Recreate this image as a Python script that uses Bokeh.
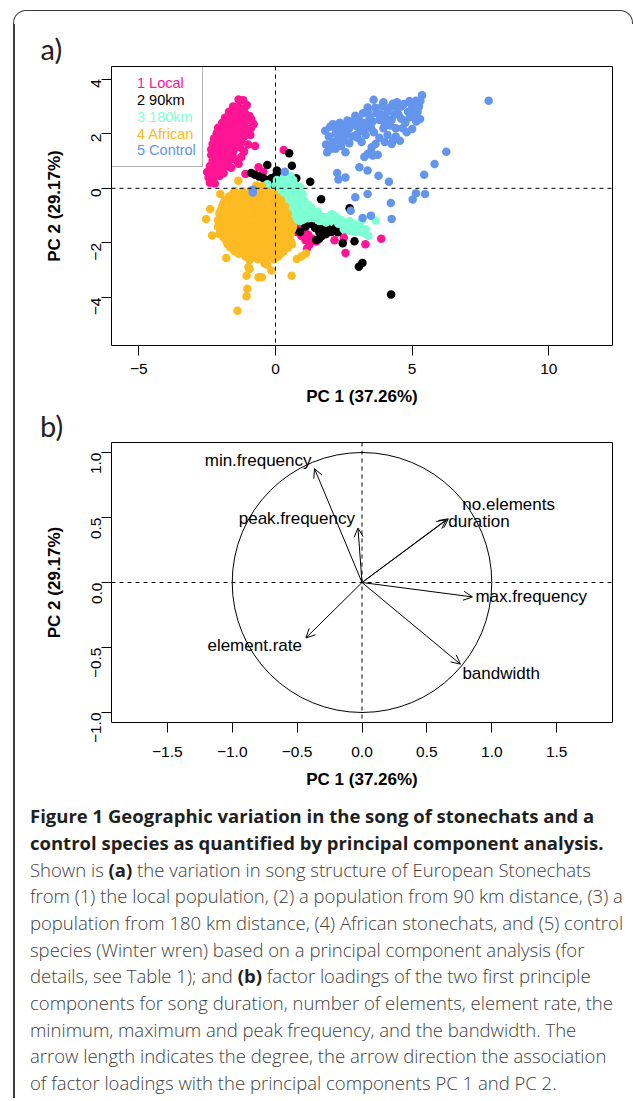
import math
from bokeh.plotting import figure
from bokeh.models import (Range1d, FixedTicker, Span, Label, BoxAnnotation, Arrow,
                          OpenHead, Div, ColumnDataSource, CustomJSTickFormatter)
from bokeh.layouts import column, row
from bokeh.embed import file_html
from bokeh.resources import INLINE
from bokeh.core.properties import value

FONT = "Liberation Sans"

# ---------------- data: panel a (PC scores) ----------------
group_names = ["1 Local", "2 90km", "3 180km", "4 African", "5 Control"]
group_colors = ["#FF1493", "#000000", "#7FFFD4", "#FCBA23", "#6495ED"]

local_pc = [
    (-1.35, 3.25), (-1.18, 3.22), (-1.05, 3.05), (-1.55, 3.0), (-1.35, 2.98), (-1.15, 2.92),
    (-1.7, 2.8), (-1.5, 2.78), (-1.3, 2.75), (-1.1, 2.72), (-0.95, 2.65),
    (-1.85, 2.58), (-1.62, 2.6), (-1.42, 2.55), (-1.22, 2.52), (-1.02, 2.5), (-0.88, 2.52),
    (-1.95, 2.4), (-1.75, 2.38), (-1.55, 2.35), (-1.35, 2.4), (-1.15, 2.33),
    (-2.1, 2.22), (-1.9, 2.2), (-1.7, 2.18), (-1.5, 2.2), (-1.3, 2.15), (-1.1, 2.1),
    (-2.15, 2.02), (-1.95, 2.0), (-1.75, 1.98), (-1.55, 2.0), (-1.35, 1.95), (-1.15, 1.9), (-0.92, 1.95),
    (-2.25, 1.82), (-2.05, 1.8), (-1.85, 1.78), (-1.65, 1.8), (-1.45, 1.75), (-1.25, 1.72),
    (-2.3, 1.62), (-2.1, 1.6), (-1.9, 1.58), (-1.7, 1.62), (-1.5, 1.55), (-1.3, 1.5), (-0.75, 1.55),
    (-2.35, 1.42), (-2.15, 1.4), (-1.95, 1.38), (-1.75, 1.4), (-1.55, 1.35),
    (-2.35, 1.22), (-2.15, 1.2), (-1.95, 1.18), (-1.75, 1.22), (-1.55, 1.15),
    (-2.3, 1.02), (-2.1, 1.0), (-1.9, 0.98), (-1.7, 1.0), (-1.42, 1.02),
    (-2.4, 0.82), (-2.2, 0.8), (-2.0, 0.78), (-1.8, 0.8), (-1.62, 0.75),
    (-2.5, 0.6), (-2.3, 0.58), (-2.1, 0.6), (-1.9, 0.55),
    (-2.45, 0.4), (-2.28, 0.38), (-2.05, 0.45), (-2.4, 0.2), (-2.22, 0.18),
    (-1.25, 1.15), (-1.35, 0.9), (-1.15, 1.35), (-1.0, 1.6), (-0.9, 2.2), (-0.8, 2.35),
    (0.3, 1.4), (-0.62, 0.77), (-1.1, 0.52), (-0.45, 0.6), (0.25, 0.42),
    (0.55, -1.25), (0.7, -1.35), (0.78, -1.6), (0.9, -1.45), (0.95, -1.75), (1.05, -1.55),
    (1.1, -1.9), (1.2, -1.7), (1.25, -2.05), (1.15, -2.2), (1.35, -1.85), (1.5, -1.95),
    (1.75, -1.45), (2.16, -1.9), (2.5, -1.8), (2.56, -2.37), (3.29, -2.05), (3.87, -1.85),
]

km90_pc = [
    (0.5, 1.28), (0.6, 0.83), (-0.3, 0.85), (0.05, 0.65), (-0.89, 0.56), (-0.75, 0.5),
    (-0.6, 0.43), (-0.45, 0.38), (-0.3, 0.3), (-0.15, 0.37), (-0.1, 0.16), (0.0, 0.45),
    (0.2, 0.5), (0.76, 0.37), (1.27, 0.24), (1.67, -0.4), (2.71, -0.73), (0.3, 0.1),
    (0.57, -1.37), (0.7, -1.5), (0.9, -1.6), (1.45, -1.45), (1.6, -1.6), (1.67, -1.43),
    (1.85, -1.67), (1.49, -1.89), (1.6, -1.85), (1.82, -1.55), (1.95, -1.5), (2.05, -1.6),
    (2.28, -1.61), (2.46, -2.01), (2.89, -1.94), (3.05, -2.87), (3.18, -2.73), (4.23, -3.89),
    (1.3, -1.3), (1.1, -1.4), (2.2, -1.45), (1.7, -1.75), (2.55, -1.5),
]

km180_pc = [
    (-0.4, 0.05), (-0.25, -0.1), (-0.15, -0.3), (0.0, 0.1), (0.1, -0.1), (0.15, 0.25),
    (0.3, 0.4), (0.45, 0.35), (0.55, 0.45), (0.5, 0.15), (0.3, 0.1), (0.2, -0.2),
    (0.35, -0.15), (0.6, 0.0), (0.75, 0.1), (0.85, -0.1), (0.7, -0.2), (0.5, -0.3),
    (0.35, -0.45), (0.55, -0.55), (0.75, -0.45), (0.95, -0.3), (1.05, -0.45), (1.2, -0.6),
    (1.0, -0.65), (0.8, -0.7), (0.6, -0.8), (0.45, -0.9), (0.6, -1.0), (0.8, -1.1),
    (0.85, -0.9), (1.05, -0.85), (1.25, -0.85), (1.3, -0.7), (1.15, -1.0), (1.0, -1.15),
    (0.7, -1.2), (1.45, -0.95), (1.6, -1.0), (1.75, -1.05), (1.9, -1.05), (2.05, -0.95),
    (2.1, -1.15), (2.25, -1.1), (2.3, -1.3), (2.45, -1.25), (2.6, -1.3), (2.7, -1.2),
    (2.8, -1.45), (2.95, -1.4), (3.0, -1.55), (3.15, -1.6), (3.3, -1.67), (3.15, -1.2),
    (3.66, -1.18), (2.5, -1.5), (2.7, -1.55), (1.85, -1.25), (1.6, -1.2),
    (0.05, 0.3), (0.2, 0.05), (0.4, 0.25), (0.65, 0.3), (0.9, 0.05), (0.25, -0.35),
    (0.45, -0.1), (0.65, -0.35), (0.85, -0.55), (1.1, -0.7), (0.4, -0.7), (0.7, -0.6),
    (0.95, -0.95), (0.55, -1.1), (1.2, -1.1), (1.35, -0.85), (0.3, -0.55), (0.15, -0.05),
    (-0.3, 0.15), (1.0, -0.2), (0.9, -1.2), (1.4, -1.1), (1.55, -0.85), (1.7, -1.2),
    (2.0, -1.2), (2.15, -1.0), (2.4, -1.15), (2.55, -1.4), (2.85, -1.3), (3.1, -1.45),
    (3.3, -1.5), (3.4, -1.75), (2.9, -1.6),
]

african_pc = [
    (-0.7, 0.1), (-0.5, 0.08),
    (-1.5, -0.1), (-1.2, -0.12), (-0.9, -0.08), (-0.6, -0.1), (-0.3, -0.12),
    (-1.7, -0.3), (-1.4, -0.32), (-1.1, -0.28), (-0.8, -0.3), (-0.5, -0.33), (-0.2, -0.3), (0.05, -0.32),
    (-1.9, -0.55), (-1.6, -0.52), (-1.3, -0.56), (-1.0, -0.55), (-0.7, -0.53), (-0.4, -0.56), (-0.1, -0.55), (0.15, -0.52),
    (-2.0, -0.8), (-1.7, -0.82), (-1.4, -0.78), (-1.1, -0.8), (-0.8, -0.83), (-0.5, -0.8), (-0.2, -0.78), (0.1, -0.8), (0.3, -0.82),
    (-2.0, -1.05), (-1.7, -1.03), (-1.4, -1.06), (-1.1, -1.05), (-0.8, -1.02), (-0.5, -1.06), (-0.2, -1.05), (0.1, -1.03), (0.35, -1.05),
    (-2.05, -1.3), (-1.75, -1.32), (-1.45, -1.28), (-1.15, -1.3), (-0.85, -1.33), (-0.55, -1.3), (-0.25, -1.28), (0.05, -1.3), (0.35, -1.32), (0.55, -1.3),
    (-2.0, -1.55), (-1.7, -1.53), (-1.4, -1.56), (-1.1, -1.55), (-0.8, -1.52), (-0.5, -1.56), (-0.2, -1.55), (0.1, -1.53), (0.4, -1.55), (0.6, -1.52),
    (-1.9, -1.8), (-1.6, -1.82), (-1.3, -1.78), (-1.0, -1.8), (-0.7, -1.83), (-0.4, -1.8), (-0.1, -1.78), (0.2, -1.8), (0.5, -1.82),
    (-1.75, -2.05), (-1.45, -2.03), (-1.15, -2.06), (-0.85, -2.05), (-0.55, -2.02), (-0.25, -2.06), (0.05, -2.05), (0.35, -2.03), (0.6, -2.05),
    (-1.5, -2.3), (-1.2, -2.28), (-0.9, -2.32), (-0.6, -2.3), (-0.3, -2.28), (0.0, -2.32), (0.3, -2.3),
    (-1.1, -2.5), (-0.8, -2.52), (-0.5, -2.48), (-0.2, -2.5), (0.1, -2.5),
    (-1.55, -0.2), (-1.25, -0.21), (-0.95, -0.19), (-0.65, -0.2), (-0.35, -0.22), (-0.05, -0.2),
    (-1.85, -0.43), (-1.55, -0.44), (-1.25, -0.42), (-0.95, -0.43), (-0.65, -0.45), (-0.35, -0.42), (-0.05, -0.43), (0.2, -0.44),
    (-1.95, -0.67), (-1.65, -0.68), (-1.35, -0.66), (-1.05, -0.67), (-0.75, -0.69), (-0.45, -0.67), (-0.15, -0.66), (0.15, -0.68), (0.35, -0.67),
    (-2.05, -0.92), (-1.85, -0.93), (-1.55, -0.91), (-1.25, -0.92), (-0.95, -0.94), (-0.65, -0.92), (-0.35, -0.91), (-0.05, -0.93), (0.2, -0.92), (0.45, -0.93),
    (-2.1, -1.17), (-1.85, -1.18), (-1.55, -1.16), (-1.25, -1.17), (-0.95, -1.19), (-0.65, -1.17), (-0.35, -1.16), (-0.05, -1.18), (0.25, -1.17), (0.5, -1.18),
    (-2.1, -1.42), (-1.85, -1.43), (-1.55, -1.41), (-1.25, -1.42), (-0.95, -1.44), (-0.65, -1.42), (-0.35, -1.41), (-0.05, -1.43), (0.25, -1.42), (0.5, -1.43), (0.65, -1.41),
    (-2.05, -1.67), (-1.8, -1.68), (-1.5, -1.66), (-1.2, -1.67), (-0.9, -1.69), (-0.6, -1.67), (-0.3, -1.66), (0.0, -1.68), (0.3, -1.67), (0.55, -1.68),
    (-1.8, -1.92), (-1.5, -1.93), (-1.2, -1.91), (-0.9, -1.92), (-0.6, -1.94), (-0.3, -1.92), (0.0, -1.91), (0.3, -1.93), (0.55, -1.92),
    (-1.65, -2.17), (-1.35, -2.18), (-1.05, -2.16), (-0.75, -2.17), (-0.45, -2.19), (-0.15, -2.17), (0.15, -2.16), (0.45, -2.18),
    (-1.35, -2.4), (-1.05, -2.41), (-0.75, -2.39), (-0.45, -2.4), (-0.15, -2.42), (0.2, -2.4),
    (-0.95, -2.62), (-0.65, -2.6), (-0.35, -2.61), (-0.05, -2.6),
    (-1.36, 0.28), (-2.02, -0.21), (-2.39, -0.76), (-2.54, -1.12), (-2.32, -1.73), (-1.8, -2.55),
    (-0.99, -2.89), (-1.06, -3.2), (-0.62, -3.26), (-0.5, -3.26), (-0.4, -2.75), (-0.3, -2.8),
    (-0.15, -3.01), (-1.03, -3.68), (-1.06, -3.95), (-1.39, -4.48), (0.59, -3.2), (0.78, -2.59),
    (0.95, -2.5), (1.12, -2.38), (-0.95, -2.95),
]

control_pc = [
    (1.82, 2.11), (1.89, 1.32), (1.95, 1.9), (2.0, 2.25), (2.1, 1.7), (2.19, 2.23), (2.2, 2.0),
    (2.35, 2.4), (2.45, 2.1), (2.5, 1.8), (2.63, 2.48), (2.7, 2.2), (2.8, 1.9), (2.92, 2.66),
    (2.9, 2.35), (3.05, 2.5), (3.1, 2.1), (3.2, 2.75), (3.37, 2.96), (3.3, 2.4), (3.45, 2.6),
    (3.59, 3.24), (3.5, 2.2), (3.66, 1.62), (3.7, 2.75), (3.8, 2.5), (3.9, 3.0), (4.0, 2.3),
    (4.1, 2.8), (4.18, 2.96), (4.25, 2.5), (4.3, 3.1), (4.25, 1.62), (4.4, 2.2), (4.5, 2.7),
    (4.55, 1.74), (4.6, 3.0), (4.7, 3.09), (4.75, 2.4), (4.85, 2.8), (5.0, 2.17), (5.0, 3.0),
    (5.14, 3.21), (5.2, 2.8), (5.29, 2.54), (5.36, 3.41), (5.3, 3.2), (5.1, 2.6),
    (1.85, 1.6), (2.05, 1.45), (2.25, 1.75), (2.4, 1.95), (2.6, 2.0), (2.75, 2.45), (3.0, 2.25),
    (3.15, 2.4), (3.25, 2.2), (3.4, 2.75), (3.55, 2.45), (3.65, 2.95), (3.85, 2.7), (3.95, 2.2),
    (4.05, 2.55), (4.2, 2.3), (4.35, 2.7), (4.45, 2.9), (4.6, 2.55), (4.65, 2.2), (4.8, 2.05),
    (4.9, 2.6), (5.05, 2.85), (5.15, 2.45), (5.25, 3.0), (4.4, 1.9), (4.3, 1.75), (3.95, 3.15),
    (4.45, 3.15), (4.9, 3.2), (2.1, 2.35), (2.3, 2.15), (2.55, 2.3), (3.5, 1.35), (3.25, 1.15),
    (2.4, 1.55), (2.7, 1.65), (2.48, 1.74), (2.56, 1.32), (3.0, 1.85), (3.3, 1.95), (3.52, 1.5),
    (3.6, 2.05), (3.8, 1.85), (4.1, 1.95), (2.95, 1.95), (2.2, 1.45), (3.15, 1.7), (4.0, 1.7),
    (3.37, 1.26), (3.55, 1.2), (3.74, 1.23), (3.07, 0.77), (3.37, 0.65), (3.77, 0.46),
    (4.15, 0.24), (2.26, 0.56), (2.3, 0.32), (2.56, 0.4), (6.25, 1.34), (5.82, 0.89),
    (5.44, 0.5), (7.8, 3.21), (5.14, -0.18), (5.02, -0.41), (5.47, -0.21), (4.22, -0.54),
    (4.25, -1.12), (3.49, -1.0), (3.19, -1.09), (3.37, -0.21), (2.92, -0.33), (2.75, -0.82),
    (0.34, 0.61), (-0.83, -0.05), (-0.83, -0.15),
]
scores = [local_pc, km90_pc, km180_pc, african_pc, control_pc]

xa_ticks = [-5, 0, 5, 10]
ya_ticks = [-4, -2, 0, 2, 4]

# ---------------- data: panel b (loadings) ----------------
variables = ["duration", "no.elements", "element.rate", "min.frequency",
             "max.frequency", "peak.frequency", "bandwidth"]
load_pc1 = [0.649, 0.665, -0.432, -0.366, 0.851, -0.031, 0.758]
load_pc2 = [0.483, 0.490, -0.426, 0.876, -0.111, 0.419, -0.628]
circle_radius = 1.0

xb_ticks = [-1.5, -1.0, -0.5, 0.0, 0.5, 1.0, 1.5]
yb_ticks = [-1.0, -0.5, 0.0, 0.5, 1.0]

xlab = "PC 1 (37.26%)"
ylab = "PC 2 (29.17%)"

# label placement (pixels relative to arrow tip) - styling only
lab_align = ["left", "left", "right", "right", "left", "right", "left"]
lab_dx = [2, 14, -4, -3, 3, -3, 2]
lab_dy = [2, -14, 8, -8, 0, -10, 9]

BORDER = "#3c3c3c"
INNER_W = 613
H_A, H_BLAB, H_B, H_CAP = 387, 29, 360, 298


def minus_fmt(digits):
    return CustomJSTickFormatter(code=(
        "const s = Math.abs(tick).toFixed(%d);"
        "return (tick < -1e-9 ? '\\u2212' : '') + s;" % digits))


def style_axes(p, tick_std, title_std_x, title_std_y):
    p.grid.visible = False
    p.outline_line_color = "black"
    p.outline_line_width = 1
    p.outline_line_alpha = 1
    p.background_fill_color = None
    p.border_fill_color = None
    for ax in p.axis:
        ax.axis_line_color = None
        ax.major_tick_out = 10
        ax.major_tick_in = 0
        ax.minor_tick_line_color = None
        ax.major_tick_line_color = "black"
        ax.major_label_text_font = FONT
        ax.major_label_text_font_size = "15.5px"
        ax.major_label_text_color = "black"
        ax.axis_label_text_font = FONT
        ax.axis_label_text_font_style = "bold"
        ax.axis_label_text_font_size = "17px"
        ax.axis_label_text_color = "black"
    p.xaxis.major_label_standoff = tick_std
    p.yaxis.major_label_standoff = 5
    p.yaxis.major_label_orientation = math.pi / 2
    p.xaxis.axis_label_standoff = title_std_x
    p.yaxis.axis_label_standoff = title_std_y
    p.xaxis.axis_label = xlab
    p.yaxis.axis_label = ylab


# ---------------- panel a ----------------
pa = figure(width=INNER_W, height=H_A, output_backend="svg", toolbar_location=None,
            x_range=Range1d(-6.0, 12.33), y_range=Range1d(-5.755, 4.46),
            min_border_left=96, min_border_right=16, min_border_top=42, min_border_bottom=66)
style_axes(pa, 8, 10, 20)
pa.xaxis.ticker = FixedTicker(ticks=xa_ticks)
pa.yaxis.ticker = FixedTicker(ticks=ya_ticks)
pa.xaxis.formatter = minus_fmt(0)
pa.yaxis.formatter = minus_fmt(0)
pa.title.text = "a)"
pa.title.text_font = "Lato"
pa.title.text_font_style = "normal"
pa.title.text_font_size = "29px"
pa.title.text_color = "#222222"
pa.title.align = "left"
pa.title.offset = -71
pa.title.standoff = 2

for pts, col in zip(scores, group_colors):
    src = ColumnDataSource(dict(x=[q[0] for q in pts], y=[q[1] for q in pts]))
    pa.scatter("x", "y", source=src, size=8.5, fill_color=col, line_color=None)

pa.add_layout(Span(location=0, dimension="width", line_color="black", line_dash="4 4", line_width=1))
pa.add_layout(Span(location=0, dimension="height", line_color="black", line_dash="4 4", line_width=1))

ax0, ay1 = pa.x_range.start, pa.y_range.end
upx_a = 501 / (pa.x_range.end - pa.x_range.start)
upy_a = 279 / (pa.y_range.end - pa.y_range.start)
pa.add_layout(BoxAnnotation(left=ax0, right=ax0 + 91 / upx_a, top=ay1, bottom=ay1 - 100 / upy_a,
                            fill_color=None, line_color="black", line_width=1))
for i, (name, col) in enumerate(zip(group_names, group_colors)):
    pa.add_layout(Label(x=ax0, y=ay1, x_offset=25.5, y_offset=-(16.7 + 16.8 * i), text=name,
                        text_color=col, text_font=FONT, text_font_size="14.5px",
                        text_baseline="middle", text_align="left"))

# ---------------- panel b ----------------
pb = figure(width=INNER_W, height=H_B, output_backend="svg", toolbar_location=None,
            x_range=Range1d(-1.93, 1.93), y_range=Range1d(-1.077, 1.077),
            min_border_left=96, min_border_right=16, min_border_top=2, min_border_bottom=78)
style_axes(pb, 14, 10, 20)
pb.xaxis.ticker = FixedTicker(ticks=xb_ticks)
pb.yaxis.ticker = FixedTicker(ticks=yb_ticks)
pb.xaxis.formatter = minus_fmt(1)
pb.yaxis.formatter = minus_fmt(1)

pb.ellipse(x=[0], y=[0], width=[2 * circle_radius], height=[2 * circle_radius],
           fill_color=None, line_color="black", line_width=1)
pb.add_layout(Span(location=0, dimension="width", line_color="black", line_dash="4 4", line_width=1))
pb.add_layout(Span(location=0, dimension="height", line_color="black", line_dash="4 4", line_width=1))

lsrc = ColumnDataSource(dict(x0=[0.0] * len(variables), y0=[0.0] * len(variables),
                             x=load_pc1, y=load_pc2, name=variables,
                             align=lab_align, dx=lab_dx, dy=lab_dy))
pb.add_layout(Arrow(source=lsrc, x_start="x0", y_start="y0", x_end="x", y_end="y",
                    line_color="black", line_width=1,
                    end=OpenHead(size=9, line_color="black", line_width=1)))
pb.text(x="x", y="y", text="name", source=lsrc, x_offset="dx", y_offset="dy",
        text_align="align", text_baseline="middle", text_font=value(FONT),
        text_font_size="17px", text_color="black")

b_label = Div(text='<div style="font-family:Lato; font-size:29px; line-height:29px; '
                   'color:#222; padding-left:25px; white-space:nowrap;">b)</div>',
              width=INNER_W, height=H_BLAB, margin=0)

# ---------------- caption ----------------
HB = 'style="font-weight:700;color:#1f1f1f;font-size:18.5px"'
caption_html = f"""
<div style="font-family:'Open Sans', Lato, sans-serif; font-size:18.5px; line-height:26.67px;
 color:#404040; padding:3.4px 0 0 15px; white-space:nowrap; font-weight:300;">
<b {HB}>Figure 1 Geographic variation in the song of stonechats and a</b><br>
<b {HB}>control species as quantified by principal component analysis.</b><br>
Shown is <b {HB}>(a)</b> the variation in song structure of European Stonechats<br>
from (1) the local population, (2) a population from 90 km distance, (3) a<br>
population from 180 km distance, (4) African stonechats, and (5) control<br>
species (Winter wren) based on a principal component analysis (for<br>
details, see Table 1); and <b {HB}>(b)</b> factor loadings of the two first principle<br>
components for song duration, number of elements, element rate, the<br>
minimum, maximum and peak frequency, and the bandwidth. The<br>
arrow length indicates the degree, the arrow direction the association<br>
of factor loadings with the principal components PC 1 and PC 2.
</div>
"""
cap = Div(text=caption_html, width=INNER_W, height=H_CAP, margin=0)

inner = column(pa, b_label, pb, cap, spacing=0)
inner_h = H_A + H_BLAB + H_B + H_CAP
left_strip = Div(text=f'<div style="width:1.5px;height:{inner_h}px;background:{BORDER}"></div>',
                 width=2, height=inner_h, margin=0)
top_w = 620
top_edge = Div(text=f'<div style="box-sizing:border-box;width:{top_w}px;height:14px;'
                    f'border:1.5px solid {BORDER};border-bottom:none;border-radius:13px 13px 0 0"></div>',
               width=top_w, height=14, margin=0)

root = column(top_edge, row(left_strip, inner, spacing=0), spacing=0,
              margin=(10, 0, 0, 13))

open("out.html", "w").write(file_html(root, INLINE))
